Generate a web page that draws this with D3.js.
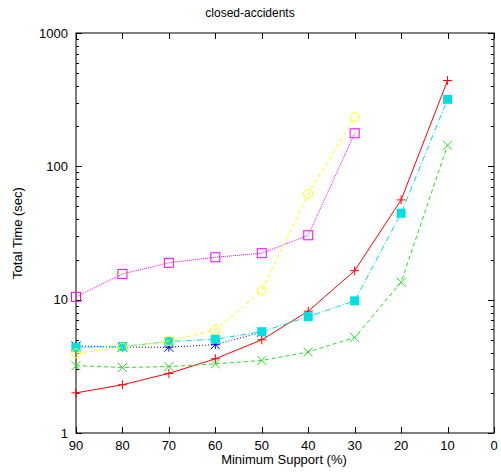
<!DOCTYPE html>
<html><head><meta charset="utf-8">
<script src="https://cdn.jsdelivr.net/npm/d3@7"></script>
<style>body{margin:0;background:#fff}text{font-family:"Liberation Sans",Arial,sans-serif;font-size:13px}</style>
</head><body><svg id="c" width="501" height="474"></svg>
<script>
const supports = [90, 80, 70, 60, 50, 40, 30, 20, 10];
const xTicks = [90, 80, 70, 60, 50, 40, 30, 20, 10, 0];
const yTicks = [1, 10, 100, 1000];
const redVals = [2.0, 2.3, 2.8, 3.6, 5.0, 8.2, 16.5, 56, 440];
const greenVals = [3.2, 3.1, 3.15, 3.3, 3.5, 4.05, 5.2, 13.5, 144];
const blueVals = [4.5, 4.4, 4.4, 4.6, 5.7];
const magentaVals = [10.5, 15.6, 18.9, 20.8, 22.3, 30.4, 177];
const cyanVals = [4.4, 4.45, 4.85, 5.05, 5.75, 7.45, 9.8, 44.5, 318];
const yellowVals = [3.96, 4.37, 4.9, 5.93, 11.7, 62, 233];

const series = [
  {vals: redVals, color: "#ff0000", dash: null, marker: "plus"},
  {vals: greenVals, color: "#22e022", dash: "4,3", marker: "cross"},
  {vals: blueVals, color: "#0000ff", dash: "1,2", marker: "star"},
  {vals: magentaVals, color: "#ff00ff", dash: "1,1", marker: "square"},
  {vals: cyanVals, color: "#00e0e0", dash: "6,2,1,2", marker: "fsquare"},
  {vals: yellowVals, color: "#ffff00", dash: "4,3", marker: "circle"}
];

const L = 76, R = 494, T = 33, B = 433;
const svg = d3.select("#c");
const x = d3.scaleLinear().domain([90, 0]).range([L, R]);
const y = d3.scaleLog().domain([1, 1000]).range([B, T]);

svg.append("rect").attr("x", L).attr("y", T).attr("width", R - L).attr("height", B - T)
  .attr("fill", "none").attr("stroke", "#000").attr("stroke-width", 1);

const g = svg.append("g");
xTicks.forEach(t => {
  const xx = Math.round(x(t)) + 0.5;
  g.append("line").attr("x1", xx).attr("x2", xx).attr("y1", B).attr("y2", B - 6).attr("stroke", "#000");
  g.append("line").attr("x1", xx).attr("x2", xx).attr("y1", T).attr("y2", T + 6).attr("stroke", "#000");
  g.append("text").attr("x", x(t)).attr("y", 450).attr("text-anchor", "middle").text(t);
});
for (let d = 1; d < 1000; d *= 10) {
  for (let k = 1; k <= 10; k++) {
    const v = d * k;
    const yy = Math.round(y(v)) + 0.5;
    const len = (k === 1 || k === 10) ? 6 : 3;
    g.append("line").attr("x1", L).attr("x2", L + len).attr("y1", yy).attr("y2", yy).attr("stroke", "#000");
    g.append("line").attr("x1", R).attr("x2", R - len).attr("y1", yy).attr("y2", yy).attr("stroke", "#000");
  }
}
yTicks.forEach(t => {
  g.append("text").attr("x", 68).attr("y", y(t) + 4.5).attr("text-anchor", "end").text(t);
});

svg.append("text").attr("x", 250).attr("y", 17).attr("text-anchor", "middle").style("font-size", "12px").text("closed-accidents");
svg.append("text").attr("x", 284).attr("y", 464).attr("text-anchor", "middle").text("Minimum Support (%)");
svg.append("text").attr("transform", "translate(22,233) rotate(-90)").attr("text-anchor", "middle").text("Total Time (sec)");

const line = d3.line().x((d, i) => x(supports[i])).y(d => y(d));
series.forEach(s => {
  const sg = svg.append("g");
  sg.append("path").attr("d", line(s.vals)).attr("fill", "none").attr("stroke", s.color)
    .attr("stroke-width", 1).attr("stroke-dasharray", s.dash);
  s.vals.forEach((v, i) => {
    const cx = x(supports[i]), cy = y(v), r = 4.5;
    const m = sg.append("g").attr("transform", `translate(${cx},${cy})`);
    const ln = (a, b, c, d2) => m.append("line").attr("x1", a).attr("y1", b).attr("x2", c).attr("y2", d2).attr("stroke", s.color);
    if (s.marker === "plus") { ln(-r, 0, r, 0); ln(0, -r, 0, r); }
    else if (s.marker === "cross") { ln(-r, -r, r, r); ln(-r, r, r, -r); }
    else if (s.marker === "star") { ln(-r, 0, r, 0); ln(0, -r, 0, r); ln(-r, -r, r, r); ln(-r, r, r, -r); }
    else if (s.marker === "square") { m.append("rect").attr("x", -r).attr("y", -r).attr("width", 2 * r).attr("height", 2 * r).attr("stroke", s.color).attr("fill", "none"); }
    else if (s.marker === "fsquare") { m.append("rect").attr("x", -r).attr("y", -r).attr("width", 2 * r).attr("height", 2 * r).attr("fill", s.color); }
    else if (s.marker === "circle") { m.append("circle").attr("r", r).attr("stroke", s.color).attr("fill", "none"); }
  });
});
</script></body></html>
